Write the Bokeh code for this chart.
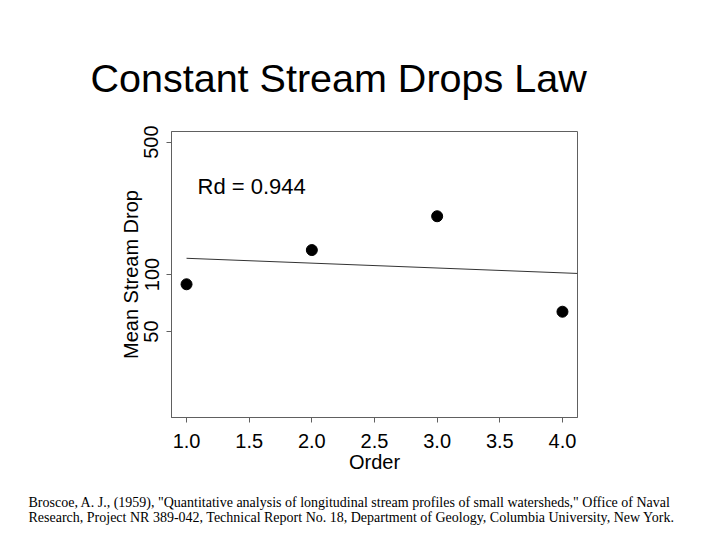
import numpy as np
from bokeh.plotting import figure
from bokeh.models import Range1d, FixedTicker, Label, Title, NumeralTickFormatter
from bokeh.embed import file_html
from bokeh.resources import INLINE

# ---- data ----
order = [1.0, 2.0, 3.0, 4.0]
mean_drop = [88.8, 134.6, 203.0, 63.6]
x_ticks = [1.0, 1.5, 2.0, 2.5, 3.0, 3.5, 4.0]
y_ticks = [50, 100, 500]
y_tick_labels = ["50", "100", "500"]
title_text = "Constant Stream Drops Law"
rd_text = "Rd = 0.944"
x_label = "Order"
y_label = "Mean Stream Drop"
citation = [
    'Broscoe, A. J., (1959), "Quantitative analysis of longitudinal stream profiles of small watersheds," Office of Naval',
    'Research, Project NR 389-042, Technical Report No. 18, Department of Geology, Columbia University, New York.',
]

# R-style axis limits (4% extension)
x_lo, x_hi = 1.0, 4.0
ext = 0.04 * (x_hi - x_lo)
xr = (x_lo - ext, x_hi + ext)
ly_lo, ly_hi = np.log10(20), np.log10(500)
lext = 0.04 * (ly_hi - ly_lo)
yr = (10 ** (ly_lo - lext), 10 ** (ly_hi + lext))

# regression of log10(drop) on order
slope, intercept = np.polyfit(np.array(order), np.log10(np.array(mean_drop)), 1)
fit_x = np.array([order[0], xr[1]])
fit_y = 10 ** (intercept + slope * fit_x)

FONT = "Liberation Sans"
AXC = "#606060"

p = figure(width=704, height=540, output_backend="svg", toolbar_location=None,
           x_range=Range1d(*xr), y_range=Range1d(*yr), y_axis_type="log",
           min_border_left=171, min_border_right=127, min_border_top=131,
           min_border_bottom=123)
p.background_fill_color = "white"
p.border_fill_color = "white"
p.outline_line_color = AXC
p.outline_line_width = 1
p.xgrid.visible = False
p.ygrid.visible = False

p.title.text = title_text
p.title.text_font = FONT
p.title.text_font_size = "39.5px"
p.title.text_font_style = "normal"
p.title.text_color = "black"
p.title.align = "left"
p.title.offset = -81
p.title.standoff = 63

p.xaxis.ticker = FixedTicker(ticks=x_ticks, minor_ticks=[])
p.xaxis.formatter = NumeralTickFormatter(format="0.0")
p.yaxis.ticker = FixedTicker(ticks=y_ticks, minor_ticks=[])
p.yaxis.major_label_overrides = {t: s for t, s in zip(y_ticks, y_tick_labels)}
p.yaxis.major_label_orientation = "vertical"
p.xaxis.axis_label = x_label
p.yaxis.axis_label = y_label

for ax in (p.xaxis, p.yaxis):
    ax.axis_line_color = AXC
    ax.major_tick_line_color = AXC
    ax.major_tick_in = 0
    ax.major_tick_out = 5
    ax.minor_tick_line_color = None
    ax.major_label_text_font = FONT
    ax.major_label_text_font_size = "20px"
    ax.major_label_text_color = "black"
    ax.axis_label_text_font = FONT
    ax.axis_label_text_font_size = "20px"
    ax.axis_label_text_font_style = "normal"
    ax.axis_label_text_color = "black"
p.xaxis.major_label_standoff = 11
p.xaxis.axis_label_standoff = 0
p.yaxis.major_label_standoff = 8
p.yaxis.axis_label_standoff = 0

p.line(fit_x, fit_y, line_color="#333333", line_width=1)
p.scatter(order, mean_drop, size=11, fill_color="black", line_color="black")

p.add_layout(Label(x=26, y=231, x_units="screen", y_units="screen", text=rd_text,
                   text_font=FONT, text_font_size="22px", text_color="black",
                   text_baseline="alphabetic"))

# leading blank line pushes the two citation lines down below the axis label
p.add_layout(Title(text="\n" + "\n".join(citation), align="left", offset=-143, standoff=8,
                   vertical_align="top",
                   text_font="Liberation Serif", text_font_size="14px",
                   text_line_height=1.0,
                   text_font_style="normal", text_color="black"), "below")

open("out.html", "w").write(file_html(p, INLINE))
